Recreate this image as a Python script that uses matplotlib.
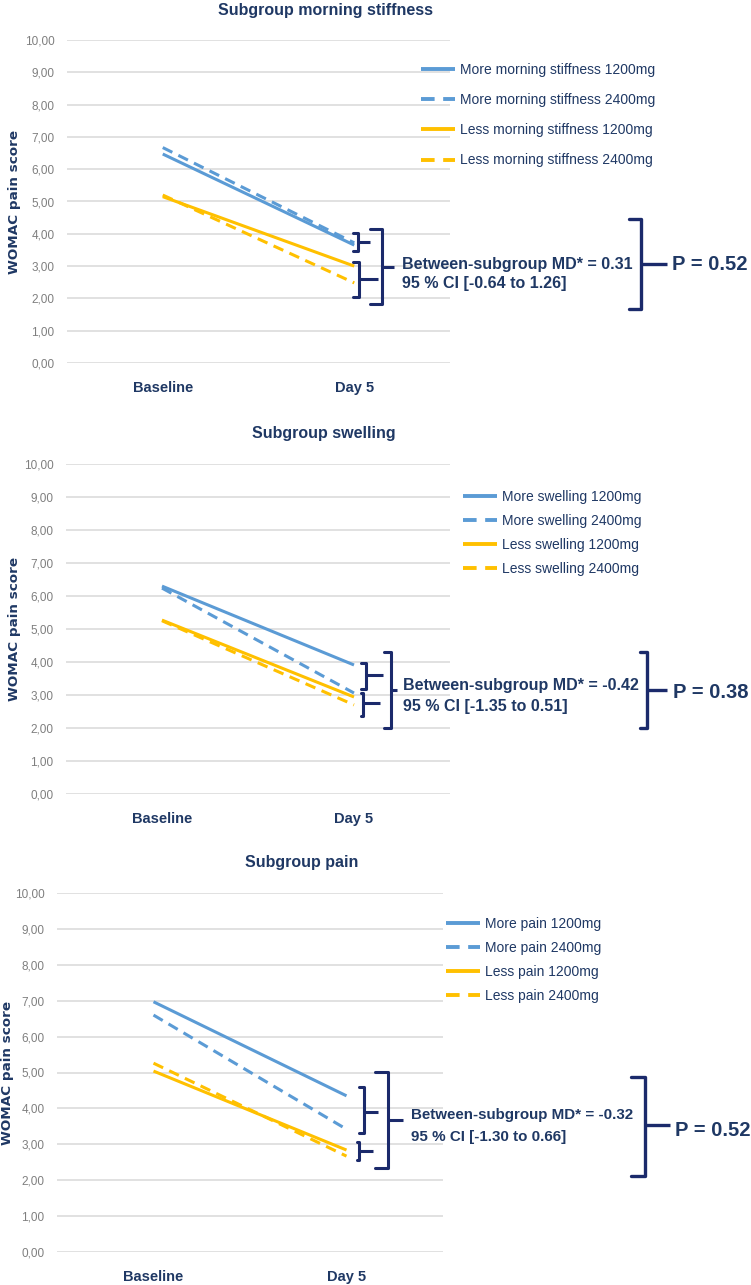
import matplotlib
matplotlib.use("Agg")
import matplotlib.pyplot as plt
from matplotlib.transforms import blended_transform_factory

# ---- data ----
categories = ["Baseline", "Day 5"]
y_ticks = [0, 1, 2, 3, 4, 5, 6, 7, 8, 9, 10]

titles = ["Subgroup morning stiffness", "Subgroup swelling", "Subgroup pain"]
subgroups = ["morning stiffness", "swelling", "pain"]

stiff_more_1200 = [6.47, 3.65]
stiff_more_2400 = [6.67, 3.72]
stiff_less_1200 = [5.15, 3.00]
stiff_less_2400 = [5.20, 2.48]

swell_more_1200 = [6.30, 3.91]
swell_more_2400 = [6.24, 3.06]
swell_less_1200 = [5.27, 2.94]
swell_less_2400 = [5.25, 2.70]

pain_more_1200 = [6.97, 4.35]
pain_more_2400 = [6.60, 3.42]
pain_less_1200 = [5.04, 2.84]
pain_less_2400 = [5.26, 2.67]

md_values = ["0.31", "-0.42", "-0.32"]
ci_values = ["[-0.64 to 1.26]", "[-1.35 to 0.51]", "[-1.30 to 0.66]"]
p_values = ["0.52", "0.38", "0.52"]

series = [
    [stiff_more_1200, stiff_more_2400, stiff_less_1200, stiff_less_2400],
    [swell_more_1200, swell_more_2400, swell_less_1200, swell_less_2400],
    [pain_more_1200, pain_more_2400, pain_less_1200, pain_less_2400],
]

# ---- styling ----
BLUE = "#5B9BD5"
GOLD = "#FFC000"
NAVY = "#1F3864"
BRACE = "#1B2A6B"
GRID = "#D9D9D9"
TICK = "#7F7F7F"
W, H = 751, 1285

plt.rcParams["font.family"] = ["Liberation Sans", "DejaVu Sans"]

fig = plt.figure(figsize=(W / 100, H / 100), dpi=100)

# axes boxes in pixels: left, right, top, bottom
boxes = [(67, 450, 40, 363), (66, 450, 464, 794), (57, 443, 893, 1252)]
title_pos = [(325, 10), (324, 433), (302, 863)]
legend_pos = [(421, 115, 1.17), (463, 533, 0.72), (446, 960, 0.72)]
ylabel_x = [21, 21, 14]   # right edge of rotated label
stats_size = [11.5, 11.5, 10.9]

# braces: (hook x, line x, tip x, y bottom, y top, y tick) ; x in pixels, y in data
braces = [
    [(353, 358, 370, 3.47, 4.02, 3.75), (353, 359, 378, 2.05, 3.13, 2.60),
     (370, 382, 394, 1.83, 4.15, 2.97), (629, 641, 667, 1.67, 4.46, 3.06)],
    [(361, 366, 383, 3.18, 3.97, 3.61), (361, 363, 380, 2.36, 3.06, 2.76),
     (384, 391, 397, 2.00, 4.30, 3.15), (640, 647, 667, 2.00, 4.30, 3.15)],
    [(359, 364, 378, 3.31, 4.60, 3.90), (357, 359, 373, 2.56, 3.06, 2.81),
     (375, 388, 403, 2.34, 5.01, 3.68), (631, 645, 670, 2.12, 4.87, 3.54)],
]
# stats text: (text x, line1 y, line2 y, P x, P y)
stats_pos = [(402, 3.06, 2.45, 672, 3.06),
             (403, 3.30, 2.64, 673, 3.09),
             (411, 3.82, 3.20, 675, 3.38)]

styles = [(BLUE, "-"), (BLUE, "--"), (GOLD, "-"), (GOLD, "--")]

for i in range(3):
    l, r, t, b = boxes[i]
    ax = fig.add_axes([l / W, 1 - b / H, (r - l) / W, (b - t) / H])
    x = list(range(len(categories)))

    labels = ["More %s 1200mg" % subgroups[i], "More %s 2400mg" % subgroups[i],
              "Less %s 1200mg" % subgroups[i], "Less %s 2400mg" % subgroups[i]]
    for vals, (col, ls), lab in zip(series[i], styles, labels):
        line, = ax.plot(x, vals, color=col, lw=2.2, label=lab, solid_capstyle="butt")
        if ls == "--":
            line.set_dashes((3.5, 2.2))

    ax.set_xlim(-0.5, 1.5)
    ax.set_ylim(0, 10)
    ax.set_yticks(y_ticks)
    ax.set_yticklabels(["%d,00" % v for v in y_ticks])
    ax.set_xticks(x)
    ax.set_xticklabels(categories, fontweight="bold", fontsize=10.5, color=NAVY)
    ax.tick_params(axis="y", length=0, pad=9, labelsize=8.5, labelcolor=TICK)
    ax.tick_params(axis="x", length=0, pad=13)
    ax.grid(axis="y", color=GRID, lw=1.1)
    ax.set_axisbelow(True)
    for s in ax.spines.values():
        s.set_visible(False)

    ax.set_ylabel("WOMAC pain score", family="DejaVu Sans", fontweight="bold",
                  fontsize=9.7, color=NAVY)
    ax.yaxis.set_label_coords((ylabel_x[i] - l) / (r - l), 0.5)

    tx, ty = title_pos[i]
    ax.text((tx - l) / (r - l), 1 + (t - ty) / (b - t), titles[i], transform=ax.transAxes,
            ha="center", va="center", fontsize=11.5, fontweight="bold", color=NAVY)

    lx, ly, sp = legend_pos[i]
    leg = ax.legend(loc="center left", bbox_to_anchor=(lx / W, 1 - ly / H),
                    bbox_transform=fig.transFigure, frameon=False, fontsize=10,
                    labelcolor=NAVY, handlelength=2.45, handletextpad=0.36,
                    labelspacing=sp, borderpad=0, borderaxespad=0)
    for h in leg.get_lines():
        h.set_linewidth(2.8)

    # braces drawn in figure-x / data-y
    trans = blended_transform_factory(fig.transFigure, ax.transData)
    for hx, vx, tipx, y0, y1, ym in braces[i]:
        bw = 2.4 if hx > 600 else 2.2
        ax.plot([hx / W, vx / W, vx / W, hx / W], [y1, y1, y0, y0], color=BRACE, lw=bw,
                transform=trans, clip_on=False, solid_joinstyle="round", solid_capstyle="round")
        ax.plot([vx / W, tipx / W], [ym, ym], color=BRACE, lw=bw,
                transform=trans, clip_on=False, solid_capstyle="butt")

    sx, s1, s2, px, py = stats_pos[i]
    ax.text(sx / W, s1, "Between-subgroup MD* = %s" % md_values[i], transform=trans,
            ha="left", va="center", fontsize=stats_size[i], fontweight="bold", color=NAVY)
    ax.text(sx / W, s2, "95 %% CI %s" % ci_values[i], transform=trans,
            ha="left", va="center", fontsize=stats_size[i], fontweight="bold", color=NAVY)
    ax.text(px / W, py, "P = %s" % p_values[i], transform=trans, ha="left", va="center",
            fontsize=14.5, fontweight="bold", color=NAVY)

fig.savefig("out.png", dpi=100)
